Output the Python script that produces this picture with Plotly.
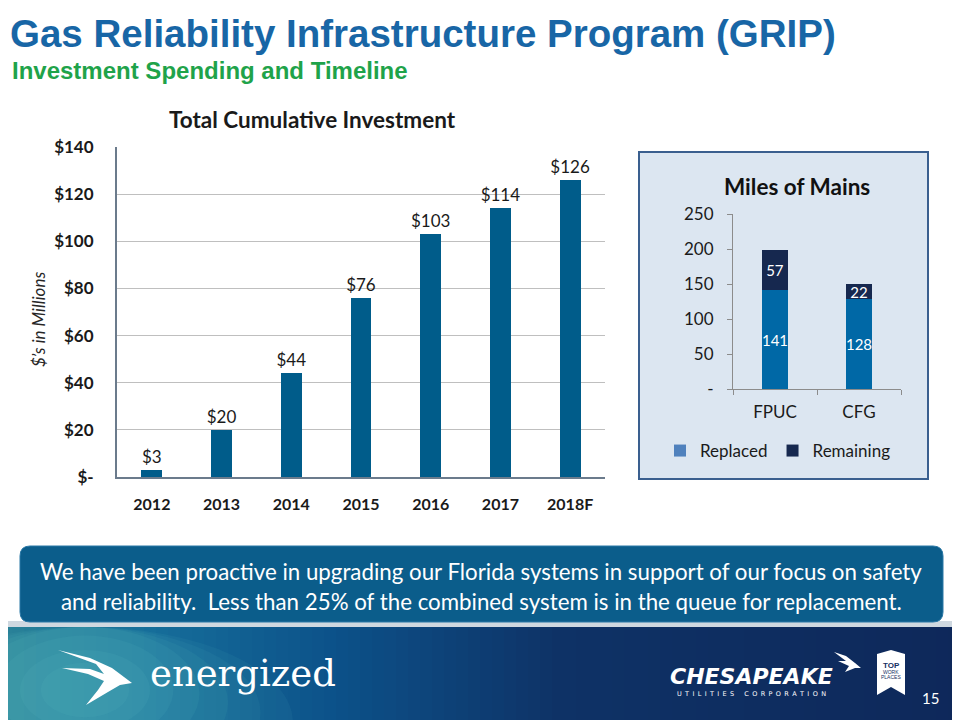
import plotly.graph_objects as go

# ---------------- data ----------------
years = ["2012", "2013", "2014", "2015", "2016", "2017", "2018F"]
investment = [3, 20, 44, 76, 103, 114, 126]
inv_labels = ["$3", "$20", "$44", "$76", "$103", "$114", "$126"]
inv_tickvals = [0, 20, 40, 60, 80, 100, 120, 140]
inv_ticktext = ["$-", "$20", "$40", "$60", "$80", "$100", "$120", "$140"]

systems = ["FPUC", "CFG"]
replaced = [141, 128]
remaining = [57, 22]
miles_tickvals = [0, 50, 100, 150, 200, 250]
miles_ticktext = ["-", "50", "100", "150", "200", "250"]

# page has an 8px body margin: size the figure to fit the 960x720 window
OFF = 8
W, H = 960 - OFF, 720 - OFF
def px(x):
    return (x - OFF) / W
def py(y):
    return 1 - (y - OFF) / H
def path(points, close=True):
    s = " ".join(("M" if i == 0 else "L") + f" {px(x):.5f},{py(y):.5f}" for i, (x, y) in enumerate(points))
    return s + (" Z" if close else "")

CHART_FONT = "Lato"
BAR_BLUE = "#005c8a"
REPL = "#0068a6"
REPL_LEG = "#4f81bd"
REMAIN = "#16284f"

fig = go.Figure()

fig.add_trace(go.Bar(
    x=years, y=investment, xaxis="x", yaxis="y",
    marker=dict(color=BAR_BLUE, line=dict(width=0)),
    text=inv_labels, textposition="outside", constraintext="none", textangle=0,
    textfont=dict(family=CHART_FONT, size=17, color="#1a1a1a"),
    cliponaxis=False, showlegend=False, hoverinfo="skip",
))

fig.add_trace(go.Bar(
    x=systems, y=replaced, xaxis="x2", yaxis="y2", name="Replaced",
    marker=dict(color=REPL, line=dict(width=0)),
    text=replaced, textposition="inside", insidetextanchor="middle", constraintext="none", textangle=0,
    textfont=dict(family=CHART_FONT, size=15, color="white"),
    showlegend=False, hoverinfo="skip",
))
fig.add_trace(go.Bar(
    x=systems, y=remaining, xaxis="x2", yaxis="y2", name="Remaining",
    marker=dict(color=REMAIN, line=dict(width=0)),
    text=remaining, textposition="inside", insidetextanchor="middle", constraintext="none", textangle=0,
    textfont=dict(family=CHART_FONT, size=15, color="white"),
    showlegend=False, hoverinfo="skip",
))
# legend entries (swatch colours as in the source legend)
fig.add_trace(go.Bar(x=[None], y=[None], xaxis="x2", yaxis="y2", name="Replaced",
                     marker=dict(color=REPL_LEG), showlegend=True))
fig.add_trace(go.Bar(x=[None], y=[None], xaxis="x2", yaxis="y2", name="Remaining",
                     marker=dict(color=REMAIN), showlegend=True))

shapes = []
def lerp(c1, c2, t):
    return tuple(int(round(a + (b - a) * t)) for a, b in zip(c1, c2))
stops = [(0, (42, 130, 152)), (150, (22, 110, 154)), (330, (12, 82, 138)), (560, (14, 50, 102)), (960, (14, 40, 90))]
step = 12
for x0 in range(0, 960, step):
    xm = x0 + step / 2
    for (a, ca), (b, cb) in zip(stops[:-1], stops[1:]):
        if a <= xm <= b:
            c = lerp(ca, cb, (xm - a) / (b - a))
            break
    shapes.append(dict(type="rect", xref="paper", yref="paper", x0=max(0, px(x0)), x1=min(1, px(x0 + step + 1)),
                       y0=0, y1=py(626), fillcolor=f"rgb{c}", line=dict(width=0), layer="below"))
for r, op in [(160, 0.07), (135, 0.07), (110, 0.08), (88, 0.09), (68, 0.09), (50, 0.10), (34, 0.09)]:
    shapes.append(dict(type="circle", xref="paper", yref="paper",
                       x0=px(85 - r * 1.3), x1=px(85 + r * 1.3), y0=py(690 + r * 0.8), y1=py(max(627, 690 - r * 0.8)),
                       fillcolor="rgb(100,200,195)", opacity=op, line=dict(width=0), layer="below"))
shapes.append(dict(type="rect", xref="paper", yref="paper", x0=0, x1=1, y0=py(627), y1=py(621),
                   fillcolor="#cfd8e0", line=dict(width=0), layer="below"))

# right panel box
shapes.append(dict(type="rect", xref="paper", yref="paper", x0=px(639), x1=px(928), y0=py(479), y1=py(152),
                   fillcolor="#dce6f1", line=dict(color="#3a5f8f", width=2), layer="below"))

# banner with rounded corners
bx0, bx1, by0, by1, r = 20, 943, 546, 622, 10
banner = (f"M {px(bx0+r)},{py(by0)} L {px(bx1-r)},{py(by0)} Q {px(bx1)},{py(by0)} {px(bx1)},{py(by0+r)} "
          f"L {px(bx1)},{py(by1-r)} Q {px(bx1)},{py(by1)} {px(bx1-r)},{py(by1)} "
          f"L {px(bx0+r)},{py(by1)} Q {px(bx0)},{py(by1)} {px(bx0)},{py(by1-r)} "
          f"L {px(bx0)},{py(by0+r)} Q {px(bx0)},{py(by0)} {px(bx0+r)},{py(by0)} Z")
shapes.append(dict(type="path", xref="paper", yref="paper", path=banner,
                   fillcolor="#0b5d8b", line=dict(color="#2a78a6", width=1), layer="below"))

bird = [(58, 650), (90, 658), (112, 668), (124, 677), (132, 683), (120, 685), (108, 692), (86, 705),
        (98, 690), (104, 681), (88, 674), (62, 668), (90, 669), (104, 674), (96, 664)]
shapes.append(dict(type="path", xref="paper", yref="paper", path=path(bird), fillcolor="white",
                   line=dict(width=0), layer="above"))
cb = [(834, 652), (846, 656), (855, 663), (861, 668), (855, 668), (845, 672), (849, 666), (838, 661), (846, 661)]
shapes.append(dict(type="path", xref="paper", yref="paper", path=path(cb), fillcolor="white",
                   line=dict(width=0), layer="above"))
rib = [(877, 654), (891, 650), (905, 654), (905, 695), (891, 687), (877, 695)]
shapes.append(dict(type="path", xref="paper", yref="paper", path=path(rib), fillcolor="white",
                   line=dict(width=0), layer="above"))

fig.update_layout(shapes=shapes)

ann = []
def A(text, x, y, size, color, family="Liberation Sans", xanchor="center", yanchor="middle", angle=0):
    ann.append(dict(text=text, x=px(x), y=py(y), xref="paper", yref="paper", showarrow=False,
                    xanchor=xanchor, yanchor=yanchor, textangle=angle,
                    font=dict(family=family, size=size, color=color)))

gap = "\u00a0\u2009"
A("<b>Gas Reliability Infrastructure Program (GRIP)</b>", 8, 33, 38.5, "#1866a6", xanchor="left")
A("<b>Investment Spending and Timeline</b>", 10, 70, 24, "#1fa34a", xanchor="left")
A("<b>Total Cumulative Investment</b>", 312, 120, 22.5, "#1a1a1a", family=CHART_FONT)
A("<i>$’s in Millions</i>", 38, 320, 17, "#262626", family=CHART_FONT, angle=-90)
A("<b>Miles of Mains</b>", 797, 186, 22.5, "#111111", family=CHART_FONT)
A("We have been proactive in upgrading our Florida systems in support of our focus on safety", 481, 571, 22.3, "white", family=CHART_FONT)
A("and reliability.  Less than 25% of the combined system is in the queue for replacement.", 481, 601, 22.3, "white", family=CHART_FONT)
A("energized", 243, 673, 37, "white", family="DejaVu Serif")
A("<b><i>CHESAPEAKE</i></b>", 751, 676, 22, "white", family="DejaVu Sans")
A(gap.join("UTILITIES") + gap * 3 + gap.join("CORPORATION"), 751, 693.5, 6.5, "white", family="DejaVu Sans")
A("<b>TOP</b>", 891, 665, 8, "#16305f", family="Liberation Sans")
A("WORK", 891, 672, 5, "#16305f", family="Liberation Sans")
A("PLACES", 891, 677, 5, "#16305f", family="Liberation Sans")
A("15", 930, 698, 15, "white", family=CHART_FONT)
fig.update_layout(annotations=ann)

axis_line = "#6b7b8c"
fig.update_layout(
    template="none",
    width=W, height=H, margin=dict(l=0, r=0, t=0, b=0, pad=0), autosize=False,
    paper_bgcolor="white", plot_bgcolor="rgba(0,0,0,0)",
    bargap=0.7,
    xaxis=dict(domain=[px(117), px(605)], anchor="y", type="category", automargin=False,
               showline=True, linecolor=axis_line, linewidth=2, ticks="", showgrid=False, zeroline=False,
               tickfont=dict(family=CHART_FONT, size=16, color="#1a1a1a", weight="bold"),
               ticklabelstandoff=12, fixedrange=True),
    yaxis=dict(domain=[py(477), py(147)], anchor="x", range=[0, 140], automargin=False,
               tickvals=inv_tickvals, ticktext=inv_ticktext,
               showline=True, linecolor=axis_line, linewidth=2, ticks="",
               showgrid=True, gridcolor="#bfbfbf", gridwidth=1, zeroline=False,
               tickfont=dict(family=CHART_FONT, size=17, color="#1a1a1a", weight="bold"),
               ticklabelstandoff=18, fixedrange=True),
    xaxis2=dict(domain=[px(733), px(901)], anchor="y2", type="category", automargin=False,
                showline=True, linecolor="#8c8c8c", linewidth=1, ticks="outside", ticklen=5,
                tickcolor="#8c8c8c", tickson="boundaries", showgrid=False, zeroline=False,
                tickfont=dict(family=CHART_FONT, size=17, color="#1a1a1a"),
                ticklabelstandoff=8, fixedrange=True),
    yaxis2=dict(domain=[py(389), py(214)], anchor="x2", range=[0, 250], automargin=False,
                tickvals=miles_tickvals, ticktext=miles_ticktext,
                showline=True, linecolor="#8c8c8c", linewidth=1, ticks="outside", ticklen=5,
                tickcolor="#8c8c8c", showgrid=False, zeroline=False,
                tickfont=dict(family=CHART_FONT, size=17, color="#1a1a1a"),
                ticklabelstandoff=10, fixedrange=True),
    barmode="stack",
    legend=dict(orientation="h", x=px(778), xanchor="center", y=py(451), yanchor="middle",
                traceorder="normal", bgcolor="rgba(0,0,0,0)", borderwidth=0,
                font=dict(family=CHART_FONT, size=17, color="#1a1a1a"),
                itemclick=False, itemdoubleclick=False),
)

fig.write_html("out.html")
